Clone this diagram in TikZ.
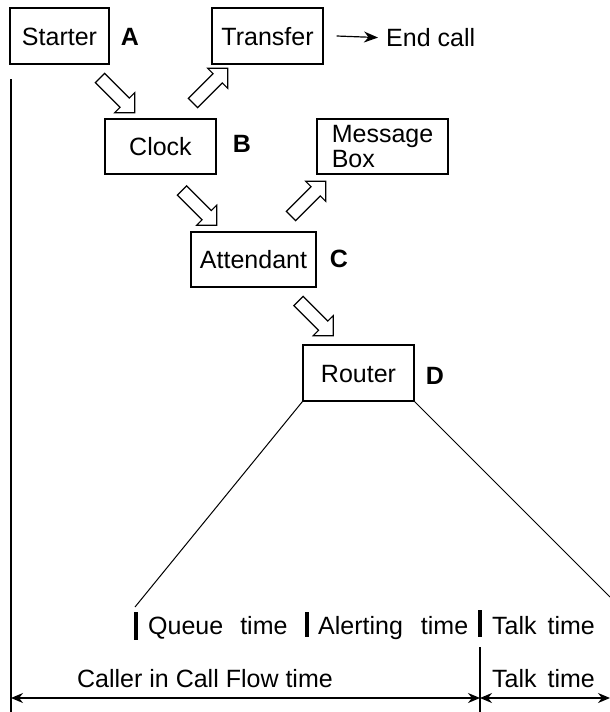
\documentclass[tikz,border=0pt]{standalone}
\usepackage{fontspec}
\setmainfont{Liberation Sans}
\usetikzlibrary{shapes.arrows, arrows.meta, positioning}

\begin{document}
\begin{tikzpicture}[x=1pt, y=-1pt,
    font=\fontsize{25}{25}\selectfont,
    box/.style={draw, line width=1.2pt, inner sep=0pt, text height=18pt, text depth=0pt},
    blockarrow/.style={draw, single arrow, fill=white, line width=1.2pt,
        minimum height=49pt, minimum width=27pt, inner sep=6pt,
        single arrow head extend=7.5pt, single arrow tip angle=90},
    tag/.style={font=\fontsize{25}{25}\selectfont\bfseries, anchor=base, inner sep=0pt},
    txt/.style={anchor=base west, inner sep=0pt},
    timebar/.style={line width=3.5pt},
    span/.style={line width=1.2pt, {Stealth[length=12pt,width=10pt]}-{Stealth[length=12pt,width=10pt]}}]
    \useasboundingbox (0,0) rectangle (610,712);

    % Call flow boxes
    \node[box, minimum width=99pt, minimum height=56pt] (starter) at (59.5,36) {Starter};
    \node[tag] (a) at (130,45) {A};
    \node[box, minimum width=111pt, minimum height=56pt] (transfer) at (267.5,36) {Transfer};
    \node[txt] (endcall) at (386,46) {End call};
    \draw[-{Stealth[length=14pt,width=11pt]}, line width=1.2pt]
        ([xshift=13pt]transfer.east) -- ([xshift=-8pt, yshift=-0.5pt]endcall.west);

    \node[box, minimum width=111pt, minimum height=55pt] (clock) at (160.5,146.5) {Clock};
    \node[tag] (b) at (242,152) {B};
    \node[draw, line width=1.2pt, inner sep=0pt, minimum width=131pt, minimum height=55pt,
        align=left] (msgbox) at (382.5,146.5) {Message\\Box};

    \node[box, minimum width=125pt, minimum height=55pt] (attendant) at (253.5,259.5) {Attendant};
    \node[tag] (c) at (339,267) {C};

    \node[box, minimum width=111pt, minimum height=56pt] (router) at (358.5,373) {Router};
    \node[tag] (d) at (435,384) {D};

    % Hollow block arrows
    \node[blockarrow, rotate=-45] (ar1) at (115,93) {};
    \node[blockarrow, rotate=45] (ar2) at (208,88) {};
    \node[blockarrow, rotate=-45] (ar3) at (197,205.5) {};
    \node[blockarrow, rotate=45] (ar4) at (306,201) {};
    \node[blockarrow, rotate=-45] (ar5) at (313.5,316) {};

    % Timeline
    \coordinate (lefttop) at (11,79);
    \coordinate (leftbot) at (11,712);
    \draw[line width=1.2pt] (lefttop) -- (leftbot);

    \coordinate (qstart) at (135,607);
    \coordinate (tend) at (610,597);
    \draw[line width=1pt] (router.south west) -- (qstart);
    \draw[line width=1pt] (router.south east) -- (tend);

    \draw[timebar] (136,612) -- (136,640);
    \draw[timebar] (307,612) -- (307,637);
    \draw[timebar] (480,610) -- (480,637);
    \node[txt] (queue) at (148,634) {Queue\hspace{17pt}time};
    \node[txt] (alerting) at (318,634) {Alerting\hspace{18pt}time};
    \node[txt] (talk1) at (492,634) {Talk\hspace{11pt}time};

    \coordinate (splittop) at (480,647);
    \coordinate (splitbot) at (480,712);
    \draw[line width=1.2pt] (splittop) -- (splitbot);
    \node[anchor=base, inner sep=0pt] (caller) at (205,687) {Caller in Call Flow time};
    \node[txt] (talk2) at (492,687) {Talk\hspace{11pt}time};

    \coordinate (spanL) at (11,698);
    \coordinate (spanM) at (480,698);
    \coordinate (spanR) at (610,698);
    \draw[span] (spanL) -- (spanM);
    \draw[span] (spanM) -- (spanR);
\end{tikzpicture}
\end{document}
